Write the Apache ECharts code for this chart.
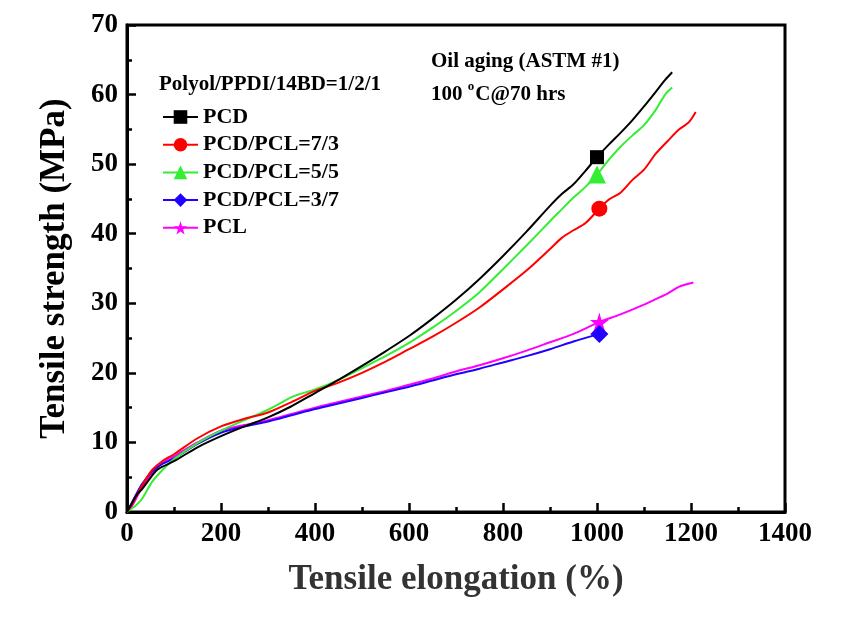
<!DOCTYPE html>
<html>
<head>
<meta charset="utf-8">
<script src="https://cdn.jsdelivr.net/npm/echarts@6/dist/echarts.min.js"></script>
<style>
html,body{margin:0;padding:0;background:#fff;}
#chart{width:848px;height:627px;}
</style>
</head>
<body>
<div id="chart"></div>
<script>
// ---- data (Tensile elongation %, Tensile strength MPa) ----
const seriesNames = ['PCD', 'PCD/PCL=7/3', 'PCD/PCL=5/5', 'PCD/PCL=3/7', 'PCL'];
const pcd = [[0,0],[10,1.2],[20,2.4],[32,3.3],[53,5.2],[67,6.2],[100,7.3],[150,9.3],[200,10.9],[250,12.3],[300,13.6],[350,15.2],[400,17.1],[450,19.0],[500,21.0],[550,23.1],[600,25.3],[650,27.8],[700,30.5],[750,33.5],[800,36.8],[850,40.3],[900,44.0],[925,45.7],[950,47.1],[975,49.0],[1000,51.0],[1025,52.8],[1050,54.5],[1075,56.3],[1100,58.3],[1125,60.4],[1145,62.1],[1160,63.2]];
const pcd73 = [[0,0],[10,1.0],[20,2.3],[32,3.8],[53,6.0],[75,7.3],[100,8.3],[150,10.6],[200,12.3],[250,13.4],[300,14.3],[350,15.8],[400,17.4],[450,18.6],[500,20.0],[550,21.6],[600,23.4],[650,25.2],[700,27.2],[750,29.4],[800,32.0],[850,34.7],[900,37.8],[925,39.4],[950,40.5],[975,41.5],[1005,43.6],[1025,44.9],[1050,45.9],[1075,47.7],[1100,49.2],[1125,51.5],[1150,53.3],[1175,55.0],[1195,56.0],[1210,57.5]];
const pcd55 = [[0,0],[10,0.5],[20,1.0],[32,1.9],[53,4.3],[75,6.0],[100,7.6],[150,9.9],[200,11.7],[250,13.2],[300,14.7],[350,16.5],[365,16.9],[400,17.6],[450,19.0],[500,20.7],[550,22.4],[600,24.3],[650,26.5],[700,28.9],[750,31.6],[800,34.9],[850,38.3],[900,41.8],[925,43.5],[950,45.2],[975,46.7],[1000,48.5],[1025,50.6],[1050,52.5],[1075,54.1],[1100,55.6],[1125,57.8],[1145,60.0],[1160,61.0]];
const pcd37 = [[0,0],[10,1.3],[20,2.6],[32,4.0],[53,5.8],[75,6.9],[100,7.7],[150,9.8],[200,11.4],[250,12.3],[300,13.0],[350,13.9],[400,14.8],[450,15.6],[500,16.4],[550,17.2],[600,18.0],[650,18.9],[700,19.8],[750,20.6],[800,21.5],[850,22.4],[900,23.4],[950,24.5],[1005,25.6]];
const pcl = [[0,0],[10,0.8],[20,2.0],[32,3.6],[53,5.6],[75,7.0],[100,8.0],[150,10.0],[200,11.7],[250,12.5],[300,13.2],[350,14.1],[400,15.0],[450,15.8],[500,16.6],[550,17.4],[600,18.3],[650,19.2],[700,20.2],[750,21.1],[800,22.1],[850,23.2],[900,24.4],[950,25.6],[1005,27.3],[1050,28.4],[1100,29.8],[1125,30.6],[1150,31.4],[1175,32.4],[1205,33.0]];
const markerX = [1000, 1005, 1000, 1005, 1005];
const xTicks = [0, 200, 400, 600, 800, 1000, 1200, 1400];
const yTicks = [0, 10, 20, 30, 40, 50, 60, 70];

const allData = [pcd, pcd73, pcd55, pcd37, pcl];
const colors = ['#000000', '#ff0000', '#33ee33', '#2200ff', '#ff00ff'];
const STAR = 'path://M50,0 L61,35 L98,35 L68,57 L79,91 L50,70 L21,91 L32,57 L2,35 L39,35 Z';
const symbols = ['rect', 'circle', 'triangle', 'diamond', STAR];
const symSizes = [14, 16, 18, 18, 19];
const FONT = '"Liberation Serif", "Times New Roman", serif';

const chart = echarts.init(document.getElementById('chart'), null, {renderer: 'canvas'});

const series = allData.map((pts, i) => ({
  name: seriesNames[i],
  type: 'line',
  symbol: symbols[i],
  symbolSize: symSizes[i],
  showSymbol: true,
  showAllSymbol: true,
  smooth: 0.3,
  color: colors[i],
  lineStyle: {color: colors[i], width: 2},
  itemStyle: {color: colors[i]},
  data: pts.map(p => p[0] === markerX[i] ? {value: p} : {value: p, symbol: 'none'}),
  z: 5 - i
}));

const option = {
  animation: false,
  backgroundColor: '#fff',
  grid: {left: 127, right: 63, top: 25, bottom: 115, show: true, borderColor: '#000', borderWidth: 3, backgroundColor: 'transparent'},
  legend: {
    orient: 'vertical', left: 162, top: 106, padding: 0,
    itemWidth: 35, itemHeight: 17, itemGap: 5.7,
    textStyle: {fontFamily: FONT, fontWeight: 'bold', fontSize: 22, color: '#000'},
    data: seriesNames
  },
  xAxis: {
    type: 'value', min: 0, max: 1400, interval: 200,
    name: 'Tensile elongation (%)', nameLocation: 'middle', nameGap: 50,
    nameTextStyle: {fontFamily: FONT, fontWeight: 'bold', fontSize: 35, color: '#333'},
    axisLine: {show: true, lineStyle: {color: '#000', width: 3}},
    axisTick: {show: true, inside: true, length: 9, lineStyle: {color: '#000', width: 2.5}},
    minorTick: {show: true, splitNumber: 2, length: 5, lineStyle: {color: '#000', width: 2.5}},
    splitLine: {show: false},
    axisLabel: {fontFamily: FONT, fontWeight: 'bold', fontSize: 27, color: '#000', margin: 9,
      formatter: v => xTicks.includes(v) ? String(v) : ''}
  },
  yAxis: {
    type: 'value', min: 0, max: 70, interval: 10,
    name: 'Tensile strength (MPa)', nameLocation: 'middle', nameGap: 55, nameRotate: 90,
    nameTextStyle: {fontFamily: FONT, fontWeight: 'bold', fontSize: 35, color: '#000'},
    axisLine: {show: true, lineStyle: {color: '#000', width: 3}},
    axisTick: {show: true, inside: true, length: 9, lineStyle: {color: '#000', width: 2.5}},
    minorTick: {show: true, splitNumber: 2, length: 5, lineStyle: {color: '#000', width: 2.5}},
    splitLine: {show: false},
    axisLabel: {fontFamily: FONT, fontWeight: 'bold', fontSize: 27, color: '#000', margin: 9,
      formatter: v => yTicks.includes(v) ? String(v) : ''}
  },
  graphic: [
    {type: 'text', left: 159, top: 74, z: 10,
      style: {text: 'Polyol/PPDI/14BD=1/2/1', font: 'bold 21px ' + FONT, fill: '#000'}},
    {type: 'text', left: 431, top: 51, z: 10,
      style: {text: 'Oil aging (ASTM #1)', font: 'bold 21px ' + FONT, fill: '#000'}},
    {type: 'text', left: 431, top: 80, z: 10,
      style: {
        text: '{a|100 }{s|o}{a|C@70 hrs}',
        rich: {
          a: {fontFamily: FONT, fontWeight: 'bold', fontSize: 21, fill: '#000'},
          s: {fontFamily: FONT, fontWeight: 'bold', fontSize: 13, fill: '#000', padding: [0, 1, 16, 0]}
        }
      }}
  ],
  series: series
};
chart.setOption(option);
</script>
</body>
</html>
